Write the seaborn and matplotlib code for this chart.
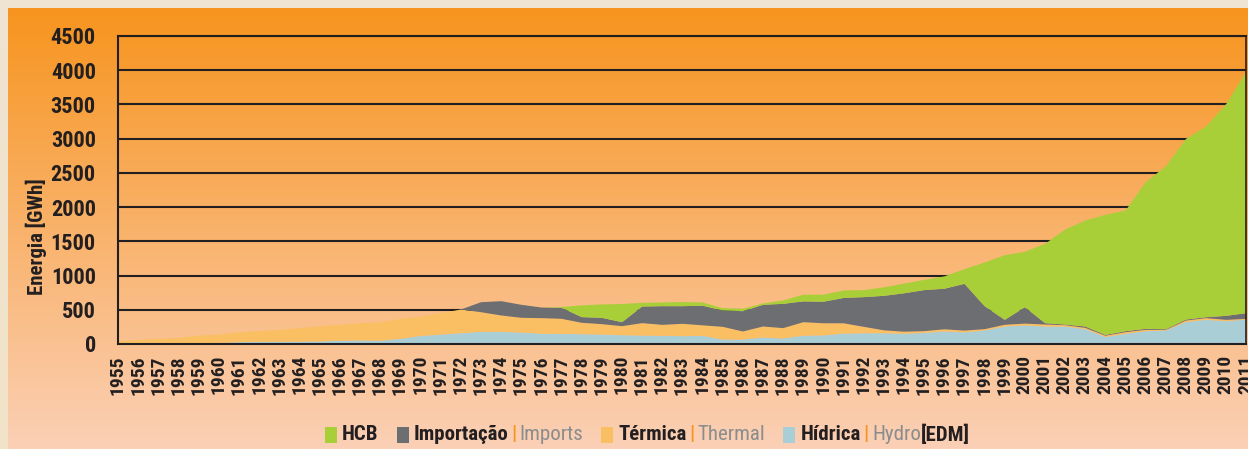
import numpy as np
import matplotlib
matplotlib.use('Agg')
import matplotlib.pyplot as plt
import seaborn as sns
from matplotlib import font_manager as fm
from matplotlib.patches import Rectangle

# Datos (GWh) por año
anos = list(range(1955, 2012))
hidrica = [0, 0, 3, 5, 15, 25, 35, 38, 40, 42, 45, 55, 60, 55, 83, 125, 145, 165, 185, 185,
           175, 158, 156, 151, 146, 136, 131, 127, 122, 127, 73, 73, 102, 88, 130, 133, 160, 165,
           165, 158, 170, 192, 178, 205, 263, 280, 263, 263, 224, 110, 156, 195, 205, 330, 360,
           341, 365]
termica = [53, 68, 80, 92, 115, 121, 145, 157, 175, 198, 223, 235, 250, 270, 292, 284, 313, 346,
           287, 239, 215, 227, 219, 166, 151, 132, 181, 160, 180, 153, 185, 117, 161, 151, 196,
           177, 150, 93, 42, 29, 25, 30, 25, 19, 25, 25, 29, 19, 19, 18, 24, 19, 9, 20, 25, 19, 10]
importacao = [0] * 18 + [146, 209, 190, 155, 161, 83, 93, 58, 243, 273, 258, 287, 239, 297, 317,
                         355, 304, 315, 370, 434, 504, 561, 600, 593, 683, 336, 72, 240, 20, 10,
                         20, 12, 15, 15, 10, 15, 14, 59, 83]
hcb = [0] * 22 + [12, 172, 195, 266, 54, 54, 60, 47, 33, 34, 20, 49, 98, 103, 109, 103, 124, 142,
                  150, 180, 214, 638, 945, 809, 1159, 1388, 1549, 1754, 1763, 2143, 2381, 2640,
                  2786, 3097, 3532]

series = ['Hídrica', 'Térmica', 'Importação', 'HCB']
cores = ['#A9CED6', '#FBBF63', '#6D6E71', '#A8CF38']

W, H = 1248, 449
sns.set_style('white')

# Buscar una fuente condensada disponible
fuentes = fm.fontManager.ttflist
nombres = {f.name for f in fuentes}
FAM, STRETCH, narrow = ['DejaVu Sans'], 'normal', False
for nombre in ['Liberation Sans Narrow', 'Roboto Condensed', 'Noto Sans Condensed',
               'Open Sans Condensed', 'DejaVu Sans Condensed']:
    if nombre in nombres:
        FAM, narrow = [nombre, 'DejaVu Sans'], True
        break
if not narrow:
    for base in ['Noto Sans', 'DejaVu Sans', 'Open Sans', 'Roboto']:
        if any(f.name == base and f.stretch in ('condensed', 'semi-condensed', 'extra-condensed', 75, 87)
               for f in fuentes):
            FAM, STRETCH, narrow = [base, 'DejaVu Sans'], 'condensed', True
            break

plt.rcParams['font.family'] = FAM
plt.rcParams['font.weight'] = 'bold'
plt.rcParams['font.stretch'] = STRETCH

if narrow:
    tam_y, tam_x, tam_ley, tam_lab = 16, 14, 15, 15
else:
    tam_y, tam_x, tam_ley, tam_lab = 13, 11, 12, 12.5

fig = plt.figure(figsize=(W / 100, H / 100), dpi=100)

# Fondo: marco beige y panel con degradado naranja
bg = fig.add_axes([0, 0, 1, 1], zorder=0)
b0 = np.array([239, 227, 210])
b1 = np.array([241, 227, 200])
beige = b0 + np.linspace(0, 1, 200)[:, None, None] * (b1 - b0)
bg.imshow(beige / 255.0, extent=[0, 1, 0, 1], aspect='auto')
top = np.array([247, 148, 30])
bot = np.array([251, 208, 182])
grad = top + np.linspace(0, 1, 300)[:, None, None] * (bot - top)
bg.imshow(grad / 255.0, extent=[8 / W, 1, 0, 1 - 8 / H], aspect='auto')
bg.set_xlim(0, 1)
bg.set_ylim(0, 1)
bg.axis('off')

ax = fig.add_axes([118 / W, 105 / H, 1128 / W, 308 / H], zorder=1)
ax.patch.set_alpha(0)
ax.stackplot(anos, hidrica, termica, importacao, hcb, colors=cores, linewidth=0, labels=series)

ax.set_xlim(1955, 2011)
ax.set_ylim(0, 4500)
ax.set_yticks(range(0, 4501, 500))
ax.set_xticks(anos)
ax.set_xticklabels([str(a) for a in anos], rotation=90, va='top')
ax.yaxis.grid(True, color='#231F20', linewidth=1.5)
ax.xaxis.grid(False)
ax.set_axisbelow(True)
ax.tick_params(axis='x', direction='out', length=6, width=1.8, color='#231F20', pad=2,
               labelsize=tam_x, labelcolor='#231F20')
ax.tick_params(axis='y', length=0, pad=16, labelsize=tam_y, labelcolor='#231F20')
for s in ax.spines.values():
    s.set_color('#231F20')
    s.set_linewidth(1.5)
ax.spines['right'].set_linewidth(1.2)

fig.text(36 / W, 1 - 237 / H, 'Energia [GWh]', rotation=90, ha='center', va='center',
         fontsize=tam_lab, color='#231F20')

# Leyenda manual, encadenada
renderer = fig.canvas.get_renderer()
ly = 435
naranja = '#F7941D'
gris = '#8A8C8E'
negro = '#231F20'


def poner(x, texto, color, weight='bold'):
    t = fig.text(x / W, 1 - ly / H, texto, color=color, fontsize=tam_ley, fontweight=weight,
                 ha='left', va='center')
    return t.get_window_extent(renderer).x1


def cuadro(x, color):
    fig.add_artist(Rectangle((x / W, 1 - 443 / H), 12 / W, 16 / H, transform=fig.transFigure,
                             facecolor=color, edgecolor='none'))
    return x + 12


grupos = [
    (cores[3], [('HCB', negro, 'bold', 0)]),
    (cores[2], [('Importação', negro, 'bold', 0), ('|', naranja, 'bold', 3),
                ('Imports', gris, 'normal', 3)]),
    (cores[1], [('Térmica', negro, 'bold', 0), ('|', naranja, 'bold', 3),
                ('Thermal', gris, 'normal', 3)]),
    (cores[0], [('Hídrica', negro, 'bold', 0), ('|', naranja, 'bold', 3),
                ('Hydro', gris, 'normal', 3), ('[EDM]', negro, 'bold', 0)]),
]
x = 325
for color, piezas in grupos:
    x = cuadro(x, color) + 5
    for texto, c, w, gap in piezas:
        x = poner(x + gap, texto, c, w)
    x += 18

fig.savefig('out.png', dpi=100)
